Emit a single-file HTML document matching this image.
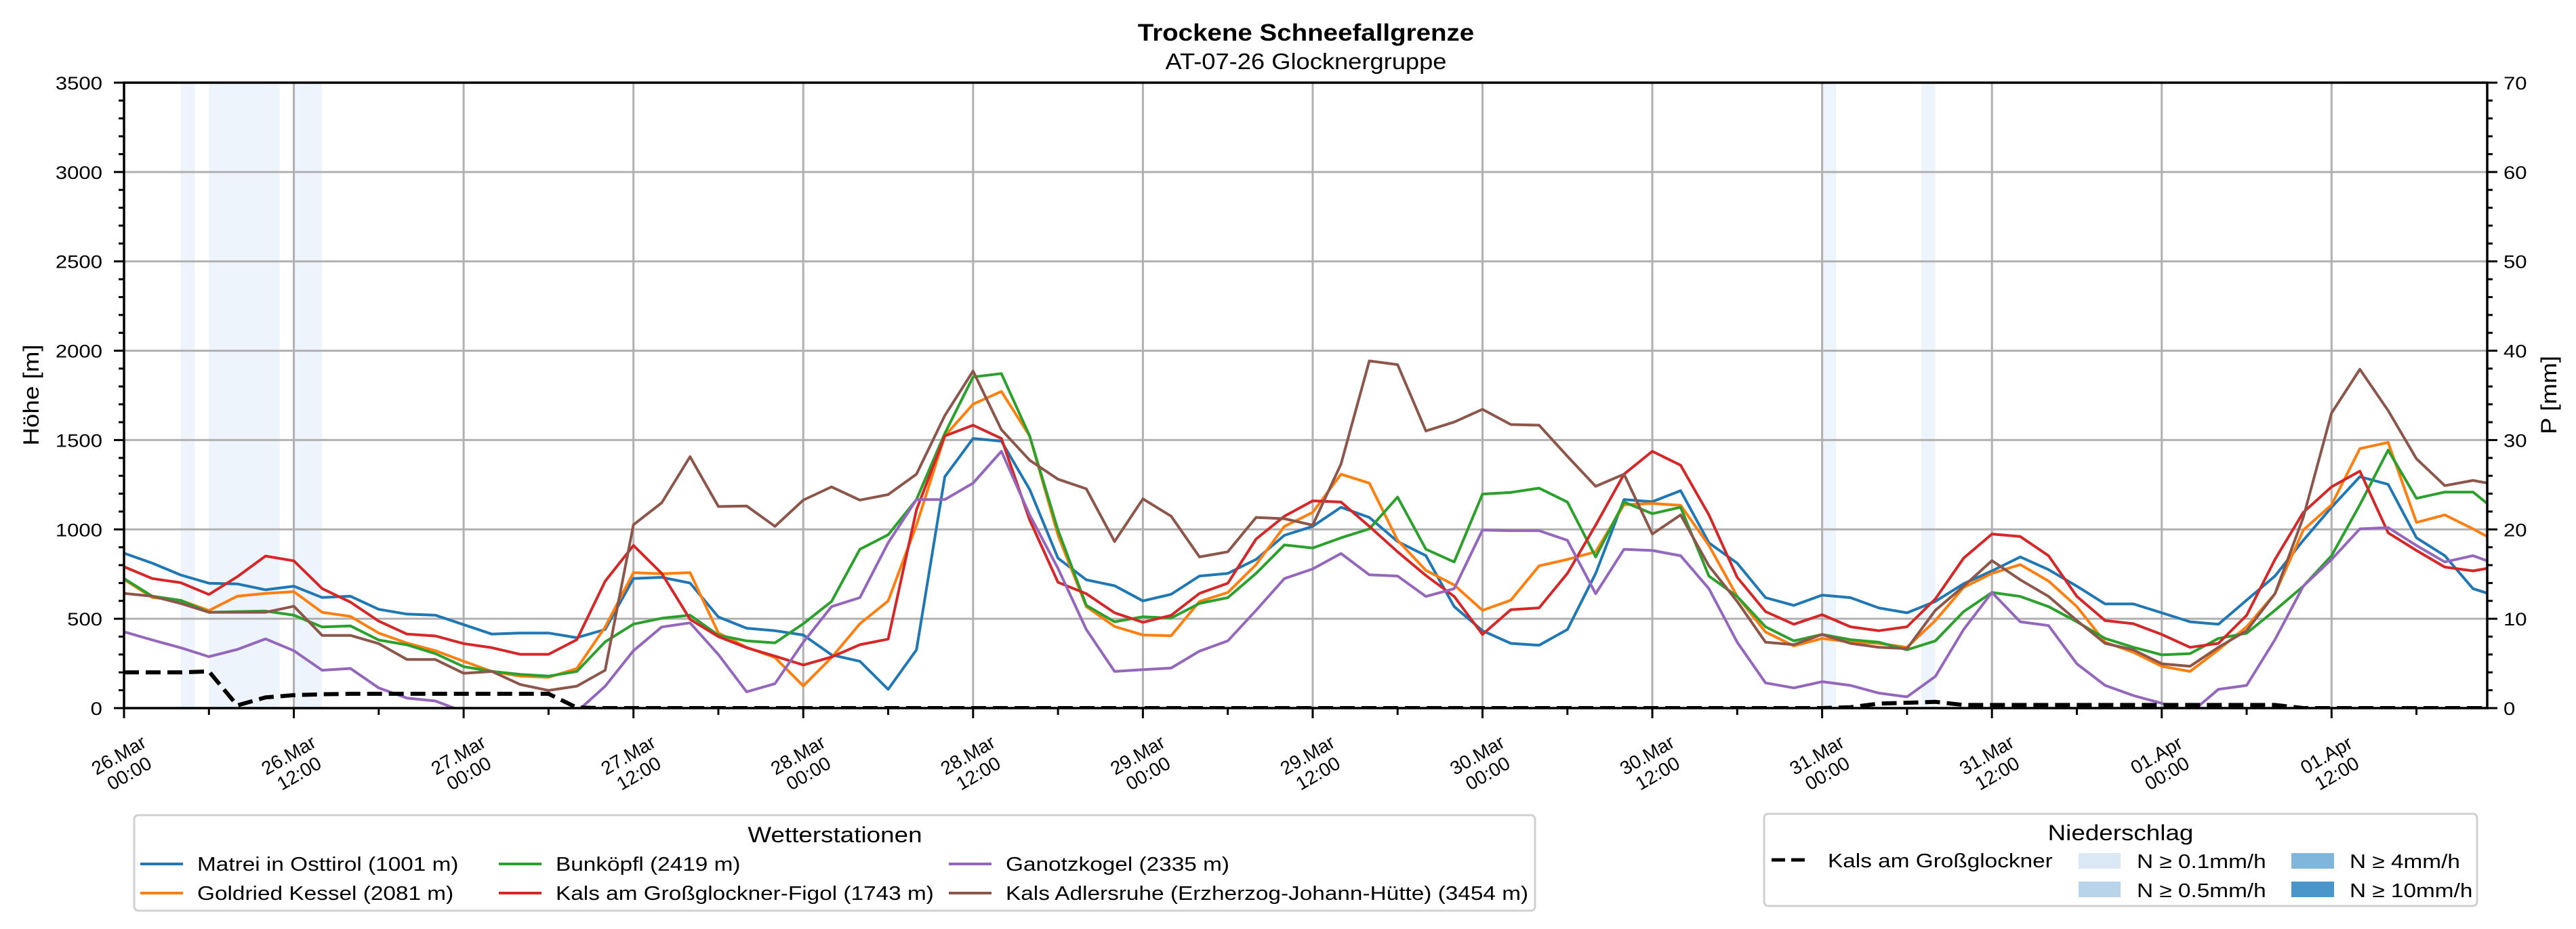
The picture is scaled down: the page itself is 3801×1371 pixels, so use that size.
<!DOCTYPE html>
<html><head><meta charset="utf-8"><style>
html,body{margin:0;padding:0;background:#fff;}
svg{display:block;font-family:"Liberation Sans","DejaVu Sans",sans-serif;}
</style></head><body>
<svg id="chart" xmlns="http://www.w3.org/2000/svg" width="3801" height="1371" viewBox="0 0 3801 1371">
<rect x="0" y="0" width="3801" height="1371" fill="#fff"/>
<defs><clipPath id="plotclip"><rect x="183" y="122" width="3487" height="923"/></clipPath></defs>
<text class="s110" x="1927" y="60" text-anchor="middle" font-size="35" font-weight="bold">Trockene Schneefallgrenze</text>
<text class="s110" x="1927" y="102" text-anchor="middle" font-size="33">AT-07-26 Glocknergruppe</text>
<g id="bands"></g>
<g id="grid"></g>
<g id="series" clip-path="url(#plotclip)"></g>
<g id="axes"></g>
<text class="s115" transform="translate(57,583) rotate(-90)" text-anchor="middle" font-size="32">Höhe [m]</text>
<text class="s115" transform="translate(3772,583) rotate(-90)" text-anchor="middle" font-size="32">P [mm]</text>

<g>
<rect x="198" y="1203" width="2067" height="141" rx="6" fill="#fff" stroke="#d0d0d0" stroke-width="3"/>
<text class="s115" x="1232" y="1243" text-anchor="middle" font-size="32">Wetterstationen</text>
<line x1="207" y1="1275" x2="270" y2="1275" stroke="#1f77b4" stroke-width="4"/>
<text class="s115" x="291" y="1285" font-size="29">Matrei in Osttirol (1001 m)</text>
<line x1="207" y1="1318" x2="270" y2="1318" stroke="#ff7f0e" stroke-width="4"/>
<text class="s115" x="291" y="1328" font-size="29">Goldried Kessel (2081 m)</text>
<line x1="736" y1="1275" x2="799" y2="1275" stroke="#2ca02c" stroke-width="4"/>
<text class="s115" x="820" y="1285" font-size="29">Bunköpfl (2419 m)</text>
<line x1="736" y1="1318" x2="799" y2="1318" stroke="#d62728" stroke-width="4"/>
<text class="s115" x="820" y="1328" font-size="29">Kals am Großglockner-Figol (1743 m)</text>
<line x1="1400" y1="1275" x2="1463" y2="1275" stroke="#9467bd" stroke-width="4"/>
<text class="s115" x="1484" y="1285" font-size="29">Ganotzkogel (2335 m)</text>
<line x1="1400" y1="1318" x2="1463" y2="1318" stroke="#8c564b" stroke-width="4"/>
<text class="s115" x="1484" y="1328" font-size="29">Kals Adlersruhe (Erzherzog-Johann-Hütte) (3454 m)</text>
</g>

<g>
<rect x="2603" y="1201" width="1052" height="136" rx="6" fill="#fff" stroke="#d0d0d0" stroke-width="3"/>
<text class="s115" x="3129" y="1240" text-anchor="middle" font-size="32">Niederschlag</text>
<line x1="2614" y1="1269" x2="2672" y2="1269" stroke="#000" stroke-width="5" stroke-dasharray="20,9"/>
<text class="s115" x="2697" y="1280" font-size="29">Kals am Großglockner</text>
<rect x="3067" y="1259" width="62" height="23" fill="#dae8f5"/>
<text class="s115" x="3153" y="1281" font-size="29">N ≥ 0.1mm/h</text>
<rect x="3067" y="1301" width="62" height="23" fill="#b8d4ea"/>
<text class="s115" x="3153" y="1324" font-size="29">N ≥ 0.5mm/h</text>
<rect x="3381" y="1259" width="63" height="23" fill="#80b6dc"/>
<text class="s115" x="3467" y="1281" font-size="29">N ≥ 4mm/h</text>
<rect x="3381" y="1301" width="63" height="23" fill="#4a96cb"/>
<text class="s115" x="3467" y="1324" font-size="29">N ≥ 10mm/h</text>
</g>
</svg>
<script>
// ---- data (2-hourly, hours since 26.Mar 00:00) ----
const hours = Array.from({length:85}, (_, i) => i * 2);
const matrei = [867,811,745,699,695,662,682,619,626,553,526,520,467,414,420,420,394,440,725,732,700,510,
447,433,409,298,262,105,326,1295,1509,1494,1224,839,718,685,600,637,739,754,832,967,1017,
1124,1067,932,853,568,433,362,352,440,754,1167,1155,1217,925,811,618,575,632,618,561,
533,597,696,768,846,775,682,583,583,533,483,469,604,739,939,1124,1295,1252,953,853,668,618];
const goldried = [720,619,603,546,626,642,652,536,513,420,364,321,262,205,179,172,222,454,758,752,758,420,
340,283,124,283,472,600,1024,1523,1701,1772,1523,967,568,457,409,405,597,647,803,1017,1095,
1309,1259,939,771,689,547,604,796,832,875,1138,1145,1135,910,625,426,348,390,369,362,
340,490,675,754,803,711,568,369,312,234,205,326,455,640,996,1138,1452,1487,1039,1081,1003,917];
const bunkoepfl = [725,626,603,536,540,543,520,454,460,381,354,305,232,205,189,179,205,371,470,503,520,408,
376,365,472,597,889,970,1167,1537,1853,1872,1523,996,575,483,511,504,586,618,754,913,896,
953,1003,1181,889,818,1198,1207,1231,1153,846,1153,1088,1124,739,625,455,376,412,383,369,
326,376,540,647,625,568,483,390,340,298,305,390,419,547,682,853,1138,1444,1174,1209,1209,1081];
const kalsFigol = [791,725,702,636,735,851,824,669,593,487,414,404,361,338,301,301,383,710,910,754,497,400,
338,291,241,286,355,386,1110,1523,1583,1509,1053,704,640,533,480,519,642,699,946,1074,1160,
1153,1017,875,742,625,412,551,561,754,1024,1309,1437,1359,1081,732,540,469,523,455,433,
455,611,839,974,960,853,625,490,472,412,340,362,519,832,1095,1238,1326,981,882,789,768,796];
const ganotzkogel = [427,381,338,288,328,387,321,212,222,113,56,40,-20,-40,-60,-60,-20,122,321,454,477,300,
91,137,369,568,618,925,1167,1167,1259,1437,1081,782,440,205,215,224,319,376,547,725,779,
865,746,739,625,668,996,993,993,939,640,889,882,853,668,369,141,113,148,127,84,
63,177,440,647,483,462,248,127,70,27,-30,105,127,383,682,832,1003,1010,910,818,853,796];
const adlersruhe = [642,626,586,536,536,536,570,407,407,361,272,272,195,205,132,99,123,212,1026,1149,1407,1128,
1131,1017,1164,1238,1164,1195,1309,1637,1886,1558,1387,1281,1227,932,1171,1074,846,875,1067,1060,1024,
1366,1943,1922,1551,1601,1672,1587,1583,1409,1241,1309,974,1081,796,597,369,355,412,362,340,
333,547,682,825,718,625,490,362,326,248,234,340,433,640,1067,1651,1896,1665,1395,1245,1274,1245];
const precipKals = [4.0,4.0,4.0,4.1,0.3,1.2,1.45,1.55,1.6,1.6,1.6,1.6,1.6,1.6,1.6,1.6,0.05,
0,0,0,0,0,0,0,0,0,0,0,0,0,0,0,0,0,0,0,0,0,0,0,0,0,0,0,0,0,0,0,0,0,0,0,0,0,0,0,0,0,0,0,0,
0.1,0.5,0.6,0.7,0.35,0.35,0.35,0.35,0.35,0.35,0.35,0.35,0.35,0.35,0.35,0.35,
0,0,0,0,0,0,0,0,0];
const bandStart = [4,6,12,120,127];
const bandEnd = [5,11,14,121,128];
const yTicks = [0,500,1000,1500,2000,2500,3000,3500];
const y2Ticks = [0,10,20,30,40,50,60,70];
const xTickHours = [0,12,24,36,48,60,72,84,96,108,120,132,144,156];
const xTickDates = ["26.Mar","26.Mar","27.Mar","27.Mar","28.Mar","28.Mar","29.Mar","29.Mar","30.Mar","30.Mar","31.Mar","31.Mar","01.Apr","01.Apr"];
const xTickTimes = ["00:00","12:00","00:00","12:00","00:00","12:00","00:00","12:00","00:00","12:00","00:00","12:00","00:00","12:00"];

// ---- scales ----
const L=183,R=3670,T=122,B=1045;
const HMAX=167, YMAX=3500, PMAX=70;
const xs = h => L + h*(R-L)/HMAX;
const ys = m => B - m*(B-T)/YMAX;
const yp = p => B - p*(B-T)/PMAX;
const NS="http://www.w3.org/2000/svg";
function mk(tag, attrs, parent){const e=document.createElementNS(NS,tag);for(const k in attrs)e.setAttribute(k,attrs[k]);parent.appendChild(e);return e;}

const gB=document.getElementById('bands'), gG=document.getElementById('grid'), gS=document.getElementById('series'), gA=document.getElementById('axes');

bandStart.forEach((s,i)=>{
  const r=mk('rect',{x:xs(s),y:T,width:xs(bandEnd[i])-xs(s),height:B-T,fill:'#eef4fb'},gB);
  
  
});

yTicks.forEach(v=>{
  const l=mk('line',{x1:L,x2:R,y1:ys(v),y2:ys(v),stroke:'#b0b0b0','stroke-width':3},gG);
  
  
});
xTickHours.forEach(h=>{
  const l=mk('line',{x1:xs(h),x2:xs(h),y1:T,y2:B,stroke:'#b0b0b0','stroke-width':3},gG);
  
  
});

const seriesList=[[matrei,'#1f77b4','series-matrei'],[goldried,'#ff7f0e','series-goldried'],[bunkoepfl,'#2ca02c','series-bunkoepfl'],[kalsFigol,'#d62728','series-kals-figol'],[ganotzkogel,'#9467bd','series-ganotzkogel'],[adlersruhe,'#8c564b','series-adlersruhe']];
seriesList.forEach(([vals,col,name])=>{
  const d=vals.map((v,i)=>(i?'L':'M')+xs(hours[i]).toFixed(1)+','+ys(v).toFixed(1)).join('');
  const p=mk('path',{d:d,fill:'none',stroke:col,'stroke-width':4,'stroke-linejoin':'round'},gS);
  
  
});
{
  const d=precipKals.map((v,i)=>(i?'L':'M')+xs(hours[i]).toFixed(1)+','+yp(v).toFixed(1)).join('');
  const p=mk('path',{d:d,fill:'none',stroke:'#000','stroke-width':6,'stroke-dasharray':'22,10'},gS);
  
  
}

// axes frame
const fr=mk('rect',{x:L,y:T,width:R-L,height:B-T,fill:'none',stroke:'#000','stroke-width':3.5},gA);


for(let v=0; v<=YMAX; v+=100){
  const major=v%500===0;
  mk('line',{x1:L-(major?15:8),x2:L,y1:ys(v),y2:ys(v),stroke:'#000','stroke-width':3},gA);
}
yTicks.forEach(v=>{
  const t=mk('text',{x:151,y:ys(v)+10,'text-anchor':'end','font-size':27,class:'s115'},gA);
  t.textContent=v;
  
  
});
for(let v=0; v<=PMAX; v+=2){
  const major=v%10===0;
  mk('line',{x1:R,x2:R+(major?15:8),y1:yp(v),y2:yp(v),stroke:'#000','stroke-width':3},gA);
}
y2Ticks.forEach(v=>{
  const t=mk('text',{x:R+24,y:yp(v)+10,'text-anchor':'start','font-size':27,class:'s115'},gA);
  t.textContent=v;
  
  
});
for(let h=0; h<=HMAX; h+=6){
  const major=h%12===0;
  mk('line',{x1:xs(h),x2:xs(h),y1:B,y2:B+(major?15:10),stroke:'#000','stroke-width':3},gA);
}
xTickHours.forEach((h,i)=>{
  const cx=xs(h), cy=1128;
  const t=mk('text',{transform:`translate(${cx},${cy}) rotate(-30)`,'text-anchor':'middle','font-size':28},gA);
  
  
  const a=mk('tspan',{x:0,y:-6},t); a.textContent=xTickDates[i];
  const b=mk('tspan',{x:0,y:25},t); b.textContent=xTickTimes[i];
});

function widen(cls,f){document.querySelectorAll('text.'+cls).forEach(t=>{const w=t.getComputedTextLength();if(w>0){t.setAttribute('textLength',(w*f).toFixed(1));t.setAttribute('lengthAdjust','spacingAndGlyphs');}});}
widen('s115',1.15);
widen('s110',1.1);
</script>
</body></html>
